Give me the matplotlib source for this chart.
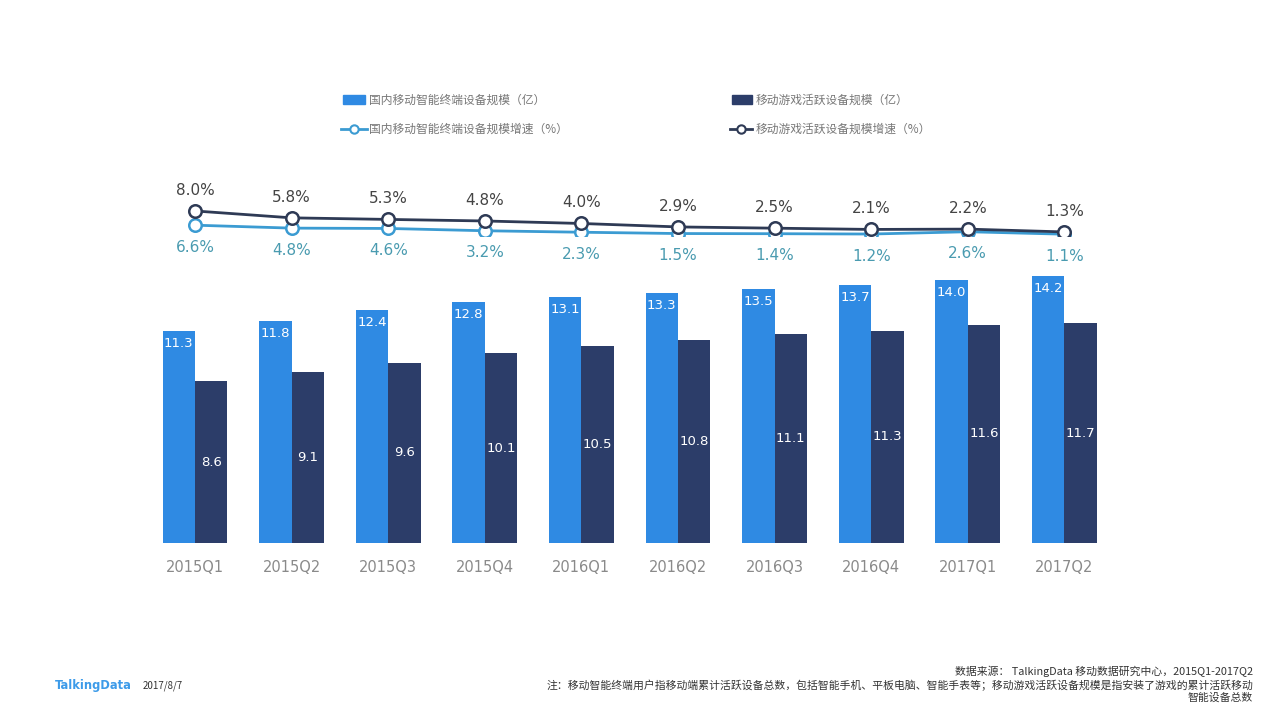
import matplotlib
matplotlib.use("Agg")
import matplotlib.pyplot as plt
from matplotlib.lines import Line2D
from matplotlib.patches import Rectangle
import numpy as np

plt.rcParams['font.family'] = ['Noto Sans CJK SC', 'DejaVu Sans']

quarters = ["2015Q1", "2015Q2", "2015Q3", "2015Q4", "2016Q1",
            "2016Q2", "2016Q3", "2016Q4", "2017Q1", "2017Q2"]
terminal_scale = [11.3, 11.8, 12.4, 12.8, 13.1, 13.3, 13.5, 13.7, 14.0, 14.2]
game_scale = [8.6, 9.1, 9.6, 10.1, 10.5, 10.8, 11.1, 11.3, 11.6, 11.7]
terminal_growth = [6.6, 4.8, 4.6, 3.2, 2.3, 1.5, 1.4, 1.2, 2.6, 1.1]
game_growth = [8.0, 5.8, 5.3, 4.8, 4.0, 2.9, 2.5, 2.1, 2.2, 1.3]

legend_labels = ["国内移动智能终端设备规模（亿）", "移动游戏活跃设备规模（亿）",
                 "国内移动智能终端设备规模增速（%）", "移动游戏活跃设备规模增速（%）"]

C_LIGHT = "#2f8ae3"
C_DARK = "#2c3d69"
C_LLINE = "#3b9bd2"
C_DLINE = "#2e3a55"

W, H = 1280, 719
fig = plt.figure(figsize=(W / 100, H / 100), dpi=100)
fig.patch.set_facecolor("white")

def fx(px):
    return px / W

def fy(py):
    return 1 - py / H

x = np.arange(len(quarters))
step = 96.6
left_px = 195 - step / 2
ax_w = step * 10

# bar axes
ax = fig.add_axes([fx(left_px), fy(543), ax_w / W, 282 / H])
bw = 0.336
ax.bar(x - bw / 2, terminal_scale, bw, color=C_LIGHT)
ax.bar(x + bw / 2, game_scale, bw, color=C_DARK)
ax.set_xlim(-0.5, 9.5)
ax.set_ylim(0, 15)
for s in ax.spines.values():
    s.set_visible(False)
ax.set_yticks([])
ax.set_xticks(x)
ax.set_xticklabels(quarters, color="#8a8a8a", fontsize=10.5)
ax.tick_params(axis='x', length=0, pad=12)
for lbl in ax.get_xticklabels():
    lbl.set_family(['DejaVu Sans'])
for xi, v in zip(x, terminal_scale):
    ax.annotate(f"{v:.1f}", (xi - bw / 2, v), xytext=(0, -9), textcoords="offset points",
                ha="center", va="center", color="white", fontsize=9.5, family=['DejaVu Sans'])
for xi, v in zip(x, game_scale):
    ax.text(xi + bw / 2, v / 2, f"{v:.1f}", ha="center", va="center", color="white",
            fontsize=9.5, family=['DejaVu Sans'])

# line axes
lax = fig.add_axes([fx(left_px), fy(236), ax_w / W, 100 / H])
lax.set_xlim(-0.5, 9.5)
lax.set_ylim(0, 100 / 1.64)
lax.axis("off")
lax.plot(x, terminal_growth, color=C_LLINE, lw=2, marker="o", ms=9,
         mfc="white", mec=C_LLINE, mew=1.8, zorder=3)
for xi, v in zip(x, terminal_growth):
    lax.annotate(f"{v:.1f}%", (xi, v), xytext=(0, -16), textcoords="offset points",
                 ha="center", va="center", color="#4a9bb0", fontsize=11, family=['DejaVu Sans'])

dax = fig.add_axes([fx(left_px), fy(236), ax_w / W, 100 / H])
dax.set_xlim(-0.5, 9.5)
dax.set_ylim(0, 100 / 3.13)
dax.axis("off")
dax.plot(x, game_growth, color=C_DLINE, lw=2, marker="o", ms=9,
         mfc="white", mec=C_DLINE, mew=1.8, zorder=4)
for xi, v in zip(x, game_growth):
    dax.annotate(f"{v:.1f}%", (xi, v), xytext=(0, 15), textcoords="offset points",
                 ha="center", va="center", color="#444444", fontsize=11, family=['DejaVu Sans'])

# legend (manual)
tr = fig.transFigure
fig.patches.append(Rectangle((fx(343), fy(104)), 22 / W, 9 / H, transform=tr, color=C_LIGHT, figure=fig))
fig.patches.append(Rectangle((fx(732), fy(104)), 20 / W, 9 / H, transform=tr, color=C_DARK, figure=fig))
fig.lines.append(Line2D([fx(341), fx(367)], [fy(129), fy(129)], transform=tr, color=C_LLINE, lw=2, figure=fig))
fig.lines.append(Line2D([fx(354)], [fy(129)], transform=tr, marker="o", ms=6, mfc="white",
                        mec=C_LLINE, mew=1.5, figure=fig))
fig.lines.append(Line2D([fx(730), fx(752)], [fy(129), fy(129)], transform=tr, color=C_DLINE, lw=2, figure=fig))
fig.lines.append(Line2D([fx(741)], [fy(129)], transform=tr, marker="o", ms=6, mfc="white",
                        mec=C_DLINE, mew=1.5, figure=fig))
leg_pos = [(369, 100), (756, 100), (369, 129), (756, 129)]
for (px, py), t in zip(leg_pos, legend_labels):
    fig.text(fx(px), fy(py), t, ha="left", va="center", fontsize=8.5, color="#777777")

# footer
fig.text(fx(55), fy(686), "TalkingData", ha="left", va="center", fontsize=8.3,
         color="#3d9be9", fontweight="bold", family=['DejaVu Sans'])
fig.text(fx(143), fy(686), "2017/8/7", ha="left", va="center", fontsize=7, color="#333333")
fig.text(fx(1253), fy(671), "数据来源： TalkingData 移动数据研究中心，2015Q1-2017Q2",
         ha="right", va="center", fontsize=7.8, color="#333333")
fig.text(fx(1253), fy(685),
         "注：移动智能终端用户指移动端累计活跃设备总数，包括智能手机、平板电脑、智能手表等；移动游戏活跃设备规模是指安装了游戏的累计活跃移动",
         ha="right", va="center", fontsize=7.8, color="#333333")
fig.text(fx(1253), fy(698), "智能设备总数", ha="right", va="center", fontsize=7.8, color="#333333")

fig.savefig("out.png", dpi=100, facecolor="white")
